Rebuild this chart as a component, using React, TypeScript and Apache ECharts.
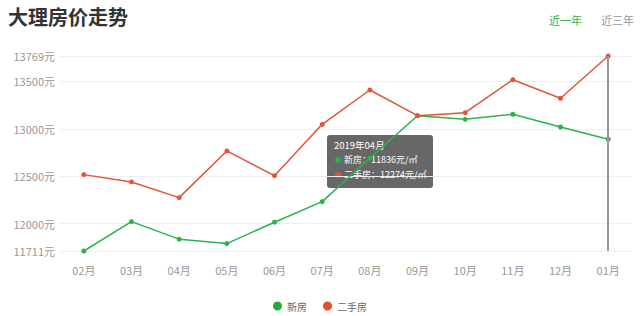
import React, { useEffect, useRef } from "react";
import * as echarts from "echarts";

const months = ["02月", "03月", "04月", "05月", "06月", "07月", "08月", "09月", "10月", "11月", "12月", "01月"];
const newHouse = [11711, 12021, 11836, 11789, 12015, 12232, 12690, 13139, 13101, 13154, 13020, 12890];
const secondHand = [12517, 12440, 12274, 12767, 12506, 13048, 13410, 13139, 13171, 13519, 13323, 13769];
const yTicks = [11711, 12000, 12500, 13000, 13500, 13769];
const tipTitle = "2019年04月";
const tipNew = "新房：11836元/㎡";
const tipSecond = "二手房：12274元/㎡";

const GREEN = "#2bb24c";
const RED = "#e0553a";
const FONT = "'Noto Sans CJK SC', 'Noto Sans', sans-serif";

export default function App() {
  const ref = useRef<HTMLDivElement>(null);
  useEffect(() => {
    if (!ref.current) return;
    const chart = echarts.init(ref.current, null, { renderer: "svg" });
    chart.setOption({
      animation: false,
      textStyle: { fontFamily: FONT },
      grid: { left: 60, right: 8, top: 56, bottom: 65 },
      legend: {
        data: [
          { name: "新房", itemStyle: { color: "#1fae3c" } },
          { name: "二手房", itemStyle: { color: "#e4502f" } },
        ],
        left: "center",
        top: 296,
        icon: "circle",
        itemWidth: 9,
        itemHeight: 9,
        itemGap: 16,
        textStyle: { color: "#666", fontSize: 10, fontFamily: FONT },
      },
      xAxis: {
        type: "category",
        data: months,
        boundaryGap: true,
        axisLine: { lineStyle: { color: "#eeeeee" } },
        axisTick: { show: false },
        axisLabel: { color: "#999", fontSize: 11, margin: 13, fontFamily: FONT },
      },
      yAxis: {
        type: "value",
        min: 11711,
        max: 13769,
        axisLine: { show: false },
        axisTick: { show: false, customValues: yTicks },
        axisLabel: {
          customValues: yTicks,
          color: "#999",
          fontSize: 11,
          margin: 5,
          fontFamily: FONT,
          formatter: (v: number) => `${v}元`,
        },
        splitLine: { lineStyle: { color: "#eeeeee" } },
      },
      series: [
        {
          name: "新房",
          type: "line",
          data: newHouse,
          symbol: "circle",
          symbolSize: 5,
          lineStyle: { color: GREEN, width: 1.5 },
          itemStyle: { color: GREEN },
        },
        {
          name: "二手房",
          type: "line",
          data: secondHand,
          symbol: "circle",
          symbolSize: 5,
          lineStyle: { color: RED, width: 1.5 },
          itemStyle: { color: RED },
          markLine: {
            silent: true,
            symbol: "none",
            label: { show: false },
            lineStyle: { color: "#999", width: 2, type: "solid" },
            data: [{ xAxis: "01月" }],
          },
        },
      ],
      graphic: [
        {
          type: "text",
          left: 8,
          top: 6,
          style: { text: "大理房价走势", fontSize: 20, fontWeight: "bold", fill: "#333", fontFamily: FONT },
        },
        {
          type: "text",
          left: 549,
          top: 14,
          style: { text: "近一年", fontSize: 11, fill: "#2bb24c", fontFamily: FONT },
        },
        {
          type: "text",
          left: 601,
          top: 14,
          style: { text: "近三年", fontSize: 11, fill: "#999", fontFamily: FONT },
        },
        {
          type: "group",
          left: 327,
          top: 135,
          z: 100,
          children: [
            { type: "rect", shape: { x: 0, y: 0, width: 106, height: 53, r: 3 }, style: { fill: "rgba(70,70,70,0.82)" } },
            { type: "text", x: 7, y: 5, style: { text: tipTitle, fontSize: 9.5, fill: "#fff", fontFamily: FONT } },
            { type: "circle", shape: { cx: 11, cy: 25, r: 3 }, style: { fill: GREEN } },
            { type: "text", x: 17, y: 20, style: { text: tipNew, fontSize: 9, fill: "#fff", fontFamily: FONT } },
            { type: "circle", shape: { cx: 11, cy: 40, r: 3 }, style: { fill: RED } },
            { type: "text", x: 17, y: 35, style: { text: tipSecond, fontSize: 9, fill: "#fff", fontFamily: FONT } },
          ],
        },
      ],
    });
    return () => chart.dispose();
  }, []);
  return <div ref={ref} style={{ width: 640, height: 316, position: "absolute", left: 0, top: 0 }} />;
}
